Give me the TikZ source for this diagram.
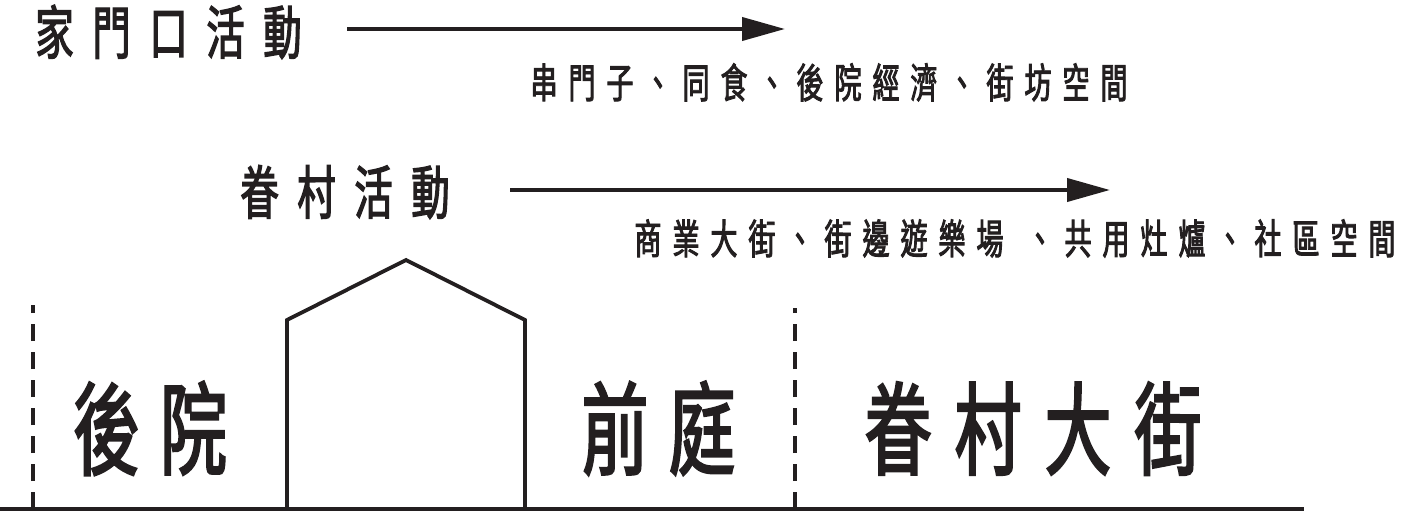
\documentclass[tikz,border=0pt]{standalone}
\usepackage{fontspec}
\newfontfamily\cjk[FakeStretch=0.66, FakeBold=2.2]{Noto Sans CJK TC}
\usetikzlibrary{arrows.meta}
\definecolor{inkblack}{RGB}{35,31,32}

% spread the glyphs of a label at a fixed pitch
\newlength\glyphpitch
\newcommand\spreadtext[2]{\setlength\glyphpitch{#1}\spreadloop#2\relax}
\def\spreadloop#1{\ifx\relax#1\else\makebox[\glyphpitch]{#1}\expandafter\spreadloop\fi}

\begin{document}
\begin{tikzpicture}[
    x=1pt, y=-1pt,
    title/.style={inner sep=0, anchor=base, text=inkblack, font=\cjk\fontsize{58}{58}\selectfont},
    detail/.style={inner sep=0, anchor=base, text=inkblack, font=\cjk\fontsize{41}{41}\selectfont},
    zone/.style={inner sep=0, anchor=base, text=inkblack, font=\cjk\fontsize{101}{101}\selectfont},
    arrow/.style={draw=inkblack, line width=4pt, -{Triangle[length=43pt, width=23pt]}},
    wall/.style={draw=inkblack, line width=3.8pt},
    divider/.style={draw=inkblack, line width=3.5pt, dash pattern=on 17pt off 11pt}
]
\useasboundingbox (0,0) rectangle (1407,513);

% Activities
\node[title] (doorway) at (168.5, 54) {\spreadtext{57pt}{家門口活動}};
\coordinate (doorstart) at (347, 29);
\coordinate (doorend) at (785, 29);
\draw[arrow] (doorstart) -- (doorend);
\node[detail] (doordetail) at (829, 98) {\spreadtext{38pt}{串門子、同食、後院經濟、街坊空間}};

\node[title] (village) at (345, 214) {\spreadtext{57pt}{眷村活動}};
\coordinate (villagestart) at (510, 190);
\coordinate (villageend) at (1110, 190);
\draw[arrow] (villagestart) -- (villageend);
\node[detail] (villagedetail) at (1015, 254) {\spreadtext{38pt}{商業大街、街邊遊樂場}\hspace{12pt}\spreadtext{38pt}{、共用灶爐、社區空間}};

% Ground, house and dividers
\coordinate (groundleft) at (0, 509);
\coordinate (groundright) at (1304, 509);
\draw[draw=inkblack, line width=4pt] (groundleft) -- (groundright);

\coordinate (wallleft) at (287, 509);
\coordinate (eaveleft) at (287, 320);
\coordinate (ridge) at (406, 260);
\coordinate (eaveright) at (525, 320);
\coordinate (wallright) at (525, 509);
\draw[wall] (wallleft) -- (eaveleft) -- (ridge) -- (eaveright) -- (wallright);

\coordinate (backfoot) at (33, 509);
\coordinate (backtop) at (33, 305);
\coordinate (streetfoot) at (795, 509);
\coordinate (streettop) at (795, 308);
\draw[divider] (backfoot) -- (backtop);
\draw[divider] (streetfoot) -- (streettop);

% Zones
\node[zone] (backyard) at (150, 467) {\spreadtext{87pt}{後院}};
\node[zone] (frontyard) at (658.5, 467) {\spreadtext{87pt}{前庭}};
\node[zone] (mainstreet) at (1033, 467) {\spreadtext{90pt}{眷村大街}};

\end{tikzpicture}
\end{document}
